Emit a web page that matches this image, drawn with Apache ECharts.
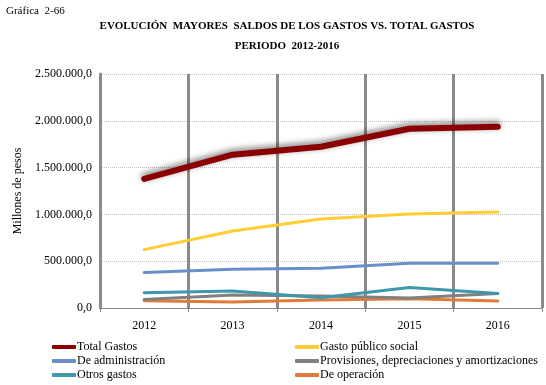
<!DOCTYPE html>
<html>
<head>
<meta charset="utf-8">
<script src="https://cdn.jsdelivr.net/npm/echarts@6/dist/echarts.min.js"></script>
<style>
  html, body { margin: 0; padding: 0; background: #fff; }
  #chart { width: 546px; height: 385px; }
</style>
</head>
<body>
<div id="chart"></div>
<script>
// Years on the category axis
const years = ['2012', '2013', '2014', '2015', '2016'];

// Expenses in millions of pesos
const totalGastos = [1380000, 1638000, 1723000, 1915000, 1936000];
const gastoPublicoSocial = [624000, 823000, 950000, 1003000, 1025000];
const deAdministracion = [380000, 415000, 425000, 479000, 479000];
const provisiones = [92000, 138000, 128000, 106000, 156000];
const otrosGastos = [163000, 181000, 110000, 220000, 156000];
const deOperacion = [78000, 64000, 85000, 99000, 74000];

// Value axis ticks
const yMin = 0, yMax = 2500000, yStep = 500000;

const serif = '"Liberation Serif", "DejaVu Serif", serif';

// Spanish number format: thousands with dots, one decimal after a comma
function fmt(v) {
  const s = Math.round(v).toString().replace(/\B(?=(\d{3})+(?!\d))/g, '.');
  return s + ',0';
}

function lineSeries(name, data, color, width, extra) {
  return Object.assign({
    name: name,
    type: 'line',
    data: data,
    symbol: 'none',
    smooth: false,
    lineStyle: { color: color, width: width, cap: 'round', join: 'round' },
    itemStyle: { color: color },
    emphasis: { disabled: true }
  }, extra || {});
}

const legendText = { fontFamily: serif, fontSize: 12, color: '#000', padding: [0, 0, 0, -4] };

const chart = echarts.init(document.getElementById('chart'), null, { renderer: 'canvas' });

chart.setOption({
  animation: false,
  backgroundColor: '#fff',
  textStyle: { fontFamily: serif },
  title: [
    {
      text: 'Gráfica  2-66',
      left: 6, top: 6, padding: 0,
      textStyle: { fontFamily: serif, fontSize: 11, fontWeight: 'normal', color: '#000' }
    },
    {
      text: 'EVOLUCIÓN  MAYORES  SALDOS DE LOS GASTOS VS. TOTAL GASTOS\nPERIODO  2012-2016',
      left: 282, top: 11, textAlign: 'center',
      textStyle: { fontFamily: serif, fontSize: 11, fontWeight: 'bold', color: '#000', lineHeight: 20, align: 'center' }
    }
  ],
  grid: { left: 100, right: 4, top: 74, bottom: 77, containLabel: false },
  xAxis: {
    type: 'category',
    data: years,
    boundaryGap: true,
    axisLine: { show: true, lineStyle: { color: '#888', width: 1 } },
    axisTick: { show: true, length: 4, lineStyle: { color: '#888', width: 1 } },
    axisLabel: { color: '#000', fontFamily: serif, fontSize: 12, margin: 12 },
    splitLine: { show: true, lineStyle: { color: '#8a8a8a', width: 3 } }
  },
  yAxis: {
    type: 'value',
    min: yMin, max: yMax, interval: yStep,
    name: 'Millones de pesos',
    nameLocation: 'middle',
    nameGap: 68,
    nameRotate: 90,
    nameTextStyle: { fontFamily: serif, fontSize: 12, color: '#000' },
    axisLine: { show: true, lineStyle: { color: '#8a8a8a', width: 3 } },
    axisTick: { show: false },
    axisLabel: { color: '#000', fontFamily: serif, fontSize: 12, margin: 8, formatter: fmt },
    splitLine: { show: true, lineStyle: { color: '#c0c0c0', width: 1, type: [1, 1] } }
  },
  legend: [
    {
      orient: 'vertical', left: 47, top: 336, height: 60, itemGap: 2,
      itemWidth: 24, itemHeight: 4, icon: 'roundRect',
      textStyle: legendText,
      data: ['Total Gastos', 'De administración', 'Otros gastos']
    },
    {
      orient: 'vertical', left: 290, top: 336, height: 60, itemGap: 2,
      itemWidth: 24, itemHeight: 4, icon: 'roundRect',
      textStyle: legendText,
      data: ['Gasto público social', 'Provisiones, depreciaciones y amortizaciones', 'De operación']
    }
  ],
  series: [
    lineSeries('De operación', deOperacion, '#e07b39', 3),
    lineSeries('Provisiones, depreciaciones y amortizaciones', provisiones, '#808080', 3),
    lineSeries('Otros gastos', otrosGastos, '#3e97ab', 3),
    lineSeries('De administración', deAdministracion, '#6a8fc8', 3),
    lineSeries('Gasto público social', gastoPublicoSocial, '#ffcc33', 3),
    lineSeries('Total Gastos', totalGastos, '#8b0000', 6, {
      lineStyle: {
        color: '#8b0000', width: 6, cap: 'round', join: 'round',
        shadowColor: 'rgba(0,0,0,0.55)', shadowBlur: 6, shadowOffsetX: 0, shadowOffsetY: -2
      }
    })
  ]
});
</script>
</body>
</html>
